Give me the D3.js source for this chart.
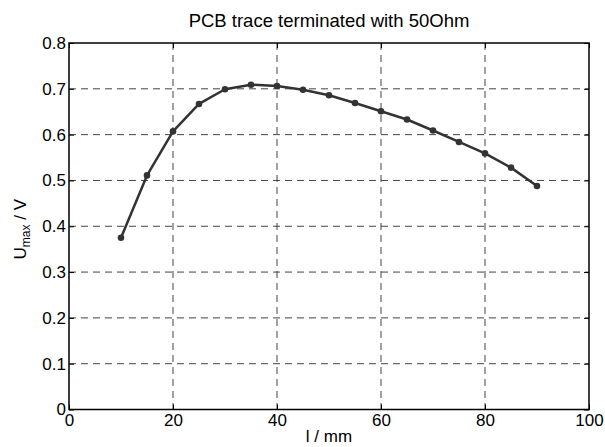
<!DOCTYPE html>
<html>
<head>
<meta charset="utf-8">
<script src="https://cdn.jsdelivr.net/npm/d3@7"></script>
<style>
  html, body { margin: 0; padding: 0; background: #fff; }
  svg { display: block; font-family: "Liberation Sans", Arial, Helvetica, sans-serif; }
</style>
</head>
<body>
<svg id="chart" width="605" height="447"></svg>
<script>
const lengths = [10, 15, 20, 25, 30, 35, 40, 45, 50, 55, 60, 65, 70, 75, 80, 85, 90];
const umax = [0.375, 0.511, 0.607, 0.667, 0.699, 0.709, 0.706, 0.698, 0.686, 0.669, 0.651, 0.633, 0.609, 0.584, 0.559, 0.528, 0.488];
const xTicks = [0, 20, 40, 60, 80, 100];
const yTicks = [0, 0.1, 0.2, 0.3, 0.4, 0.5, 0.6, 0.7, 0.8];
const titleText = "PCB trace terminated with 50Ohm";
const xLabel = "l / mm";

const svg = d3.select("#chart");
const m = { left: 69, right: 589, top: 43, bottom: 409.5 };
const x = d3.scaleLinear().domain([0, 100]).range([m.left, m.right]);
const y = d3.scaleLinear().domain([0, 0.8]).range([m.bottom, m.top]);

// grid
const gridColor = "#444";
svg.append("g").selectAll("line").data(xTicks.slice(1, -1)).join("line")
  .attr("x1", d => x(d)).attr("x2", d => x(d))
  .attr("y1", m.top).attr("y2", m.bottom)
  .attr("stroke", gridColor).attr("stroke-width", 1).attr("stroke-dasharray", "7,5");
svg.append("g").selectAll("line").data(yTicks.slice(1, -1)).join("line")
  .attr("x1", m.left).attr("x2", m.right)
  .attr("y1", d => y(d)).attr("y2", d => y(d))
  .attr("stroke", gridColor).attr("stroke-width", 1).attr("stroke-dasharray", "7,5");

// axes with inward ticks
const fs = "17px";
const xAxisB = d3.axisBottom(x).tickValues(xTicks).tickSizeInner(-5).tickSizeOuter(0).tickPadding(4).tickFormat(d3.format("d"));
const xAxisT = d3.axisTop(x).tickValues(xTicks).tickSizeInner(-5).tickSizeOuter(0).tickFormat("");
const yAxisL = d3.axisLeft(y).tickValues(yTicks).tickSizeInner(-5).tickSizeOuter(0).tickPadding(3).tickFormat(d => d === 0 ? "0" : d3.format(".1f")(d));
const yAxisR = d3.axisRight(y).tickValues(yTicks).tickSizeInner(-5).tickSizeOuter(0).tickFormat("");

function style(g) {
  g.select(".domain").remove();
  g.selectAll(".tick line").attr("stroke", "#000").attr("stroke-width", 1);
  g.selectAll("text").attr("fill", "#000").style("font-size", fs);
}
svg.append("g").attr("transform", `translate(0,${m.bottom})`).call(xAxisB).call(style);
svg.append("g").attr("transform", `translate(0,${m.top})`).call(xAxisT).call(style);
svg.append("g").attr("transform", `translate(${m.left},0)`).call(yAxisL).call(style);
svg.append("g").attr("transform", `translate(${m.right},0)`).call(yAxisR).call(style);

// box
svg.append("rect").attr("x", m.left).attr("y", m.top)
  .attr("width", m.right - m.left).attr("height", m.bottom - m.top)
  .attr("fill", "none").attr("stroke", "#000").attr("stroke-width", 1.5);

// data line
const data = lengths.map((l, i) => ({ l, u: umax[i] }));
svg.append("path").datum(data)
  .attr("d", d3.line().x(d => x(d.l)).y(d => y(d.u)))
  .attr("fill", "none").attr("stroke", "#333").attr("stroke-width", 2.5)
  .attr("stroke-linejoin", "round");
svg.append("g").selectAll("circle").data(data).join("circle")
  .attr("cx", d => x(d.l)).attr("cy", d => y(d.u)).attr("r", 3.3)
  .attr("fill", "#333");

// title
svg.append("text").attr("x", (m.left + m.right) / 2).attr("y", 27)
  .attr("text-anchor", "middle").style("font-size", "18.5px").attr("fill", "#000")
  .text(titleText);

// x label
svg.append("text").attr("x", (m.left + m.right) / 2).attr("y", 442)
  .attr("text-anchor", "middle").style("font-size", fs).attr("fill", "#000")
  .text(xLabel);

// y label
const yl = svg.append("text")
  .attr("transform", `translate(26,${(m.top + m.bottom) / 2 + 3}) rotate(-90)`)
  .attr("text-anchor", "middle").style("font-size", fs).attr("fill", "#000");
yl.append("tspan").text("U");
yl.append("tspan").attr("dy", 4).style("font-size", "12px").text("max");
yl.append("tspan").attr("dy", -4).text(" / V");
</script>
</body>
</html>
